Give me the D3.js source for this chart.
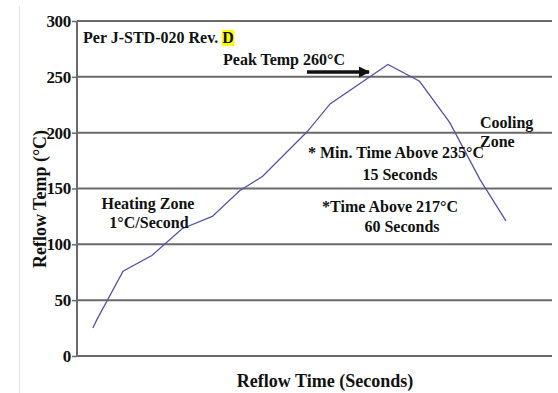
<!DOCTYPE html>
<html lang="en">
<head>
<meta charset="utf-8">
<title>Reflow profile</title>
<style>
  body { margin: 0; background: #fff; }
  svg text { font-family: "Liberation Serif", "Tinos", "DejaVu Serif", "Noto Serif", serif; font-weight: bold; fill: #111; }
  .grid line { stroke: #6a6a6a; stroke-width: 2; }
</style>
</head>
<body>
<div id="chart"></div>
<script src="https://cdn.jsdelivr.net/npm/d3@7/dist/d3.min.js"></script>
<script>
// profile (time in s, temp in °C)
var times = [11, 14, 32, 52, 73, 94, 113, 129, 160, 176, 216, 238, 259, 280, 298];
var temps = [25, 33, 76, 90, 114, 125, 148, 161, 201, 226, 261, 246, 209, 158, 121];
var yTicks = [0, 50, 100, 150, 200, 250, 300];

var W = 558, H = 393;
var margin = {top: 21, right: 6, bottom: 37, left: 77};
var width = W - margin.left - margin.right,
    height = H - margin.top - margin.bottom;

var x = d3.scaleLinear().domain([0, 330]).range([0, width]);
var y = d3.scaleLinear().domain([0, 300]).range([height, 0]);

var root = d3.select("#chart").append("svg")
    .attr("width", W).attr("height", H);

// faint page edge on the left
root.append("line")
    .attr("x1", 19.5).attr("x2", 19.5).attr("y1", 6).attr("y2", H)
    .attr("stroke", "#e6e6e6").attr("stroke-width", 1);

var defs = root.append("defs");
defs.append("marker")
    .attr("id", "arrow").attr("viewBox", "0 0 10 10")
    .attr("refX", 9).attr("refY", 5)
    .attr("markerWidth", 3.2).attr("markerHeight", 3.2)
    .attr("orient", "auto")
  .append("path").attr("d", "M0,0L10,5L0,10z").attr("fill", "#111");

var svg = root.append("g")
    .attr("transform", "translate(" + margin.left + "," + margin.top + ")");

// horizontal gridlines
svg.append("g").attr("class", "grid")
  .selectAll("line").data(yTicks.filter(function(d) { return d > 0; }))
  .enter().append("line")
    .attr("x1", 0).attr("x2", width)
    .attr("y1", function(d) { return y(d); })
    .attr("y2", function(d) { return y(d); });

// y axis
var yAxis = svg.append("g")
    .call(d3.axisLeft(y).tickValues(yTicks).tickSize(5).tickPadding(1));
yAxis.attr("font-family", null);
yAxis.select(".domain").attr("stroke", "#6a6a6a").attr("stroke-width", 2)
    .attr("d", "M0," + height + "V0");
yAxis.selectAll(".tick line").attr("stroke", "#6a6a6a").attr("stroke-width", 1.5);
yAxis.selectAll(".tick text").attr("font-size", 17).attr("fill", "#111")
    .attr("letter-spacing", -0.3);

// bottom axis line
svg.append("line")
    .attr("x1", 0).attr("x2", width).attr("y1", height).attr("y2", height)
    .attr("stroke", "#6a6a6a").attr("stroke-width", 2);

// temperature curve
var data = times.map(function(t, i) { return {t: t, v: temps[i]}; });
svg.append("path")
    .datum(data)
    .attr("fill", "none")
    .attr("stroke", "#5454aa")
    .attr("stroke-width", 1.3)
    .attr("d", d3.line()
        .x(function(d) { return x(d.t); })
        .y(function(d) { return y(d.v); }));

// axis titles
root.append("text")
    .attr("transform", "translate(46,199) rotate(-90)")
    .attr("text-anchor", "middle").attr("font-size", 18)
    .text("Reflow Temp (°C)");
root.append("text")
    .attr("x", 325).attr("y", 387)
    .attr("text-anchor", "middle").attr("font-size", 18)
    .text("Reflow Time (Seconds)");

// annotations
var hl = root.append("rect").attr("fill", "#ffff00");
var rev = root.append("text").attr("x", 83).attr("y", 43)
    .attr("font-size", 16);
rev.append("tspan").text("Per J-STD-020 Rev. ");
var dLetter = rev.append("tspan").text("D");
var bb = dLetter.node().getBBox();
hl.attr("x", bb.x - 0.5).attr("y", 30).attr("width", bb.width + 1).attr("height", 16);

function note(txt, px, py, anchor) {
  root.append("text")
      .attr("x", px).attr("y", py)
      .attr("font-size", 16)
      .attr("text-anchor", anchor || "start")
      .text(txt);
}
note("Peak Temp 260°C", 223, 65);
note("Heating Zone", 148, 209, "middle");
note("1°C/Second", 149, 228, "middle");
note("* Min. Time Above 235°C", 396, 158, "middle");
note("15 Seconds", 400, 180, "middle");
note("*Time Above 217°C", 390, 212, "middle");
note("60 Seconds", 402, 232, "middle");
note("Cooling", 480, 128);
note("Zone", 480, 147);

// arrow pointing at the peak
root.append("line")
    .attr("x1", 307).attr("y1", 72).attr("x2", 369).attr("y2", 72)
    .attr("stroke", "#111").attr("stroke-width", 3.5)
    .attr("marker-end", "url(#arrow)");
</script>
</body>
</html>
